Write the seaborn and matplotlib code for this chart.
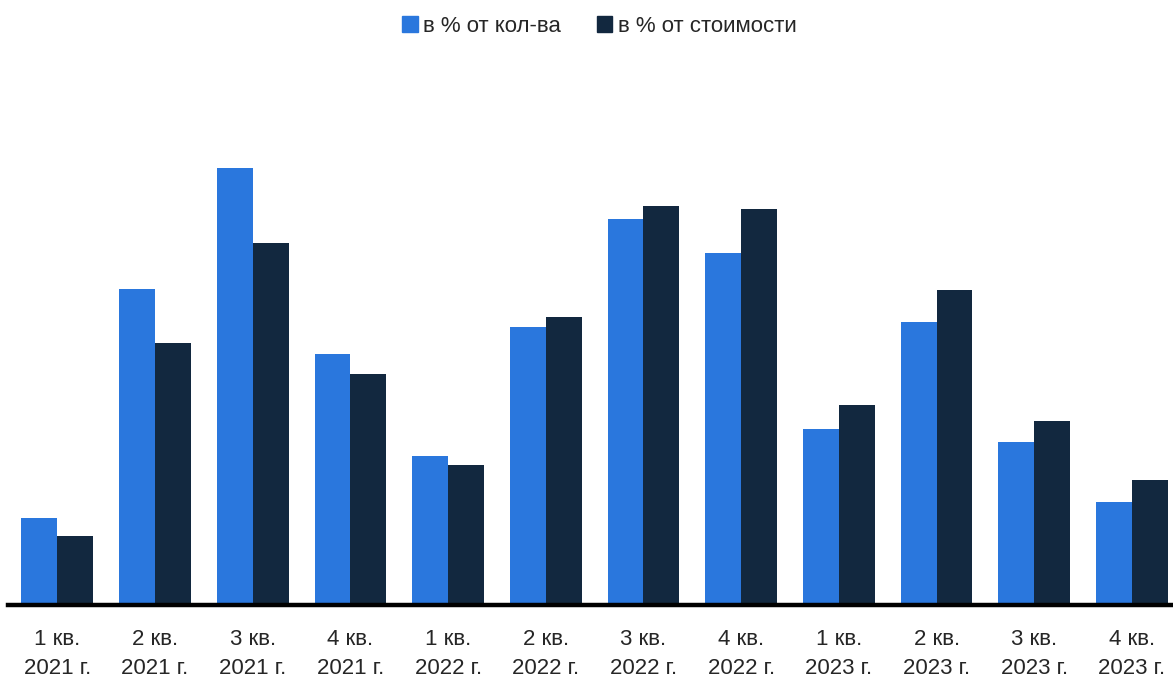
import pandas as pd
import matplotlib.pyplot as plt
import seaborn as sns

# Quarters and series (relative units)
quarters = ["1 кв.\n2021 г.", "2 кв.\n2021 г.", "3 кв.\n2021 г.", "4 кв.\n2021 г.",
            "1 кв.\n2022 г.", "2 кв.\n2022 г.", "3 кв.\n2022 г.", "4 кв.\n2022 г.",
            "1 кв.\n2023 г.", "2 кв.\n2023 г.", "3 кв.\n2023 г.", "4 кв.\n2023 г."]
share_count = [8.7, 31.6, 43.7, 25.1, 14.9, 27.8, 38.6, 35.2, 17.6, 28.3, 16.3, 10.3]
share_value = [6.9, 26.2, 36.2, 23.1, 14.0, 28.8, 39.9, 39.6, 20.0, 31.5, 18.4, 12.5]
series = ["в % от кол-ва", "в % от стоимости"]
colors = ["#2A77DD", "#12283F"]

df = pd.DataFrame({
    "quarter": quarters * 2,
    "value": share_count + share_value,
    "series": [series[0]] * len(quarters) + [series[1]] * len(quarters),
})

sns.set_style("white")
plt.rcParams["font.family"] = ["Liberation Sans", "DejaVu Sans"]

fig = plt.figure(figsize=(11.73, 6.81), dpi=100)
ax = fig.add_axes([8 / 1173, 76 / 681, 1165 / 1173, 530 / 681])
sns.barplot(data=df, x="quarter", y="value", hue="series", palette=colors,
            width=0.735, saturation=1, linewidth=0, ax=ax, legend=False)

ax.set_xlim(-0.505, 11.42)
ax.set_ylim(0, 53)
ax.set_xlabel("")
ax.set_ylabel("")
ax.set_yticks([])
ax.tick_params(axis="x", length=0, labelsize=16, pad=17)
for lbl in ax.get_xticklabels():
    lbl.set_linespacing(1.5)
for side in ["top", "right", "left"]:
    ax.spines[side].set_visible(False)
ax.spines["bottom"].set_linewidth(3.2)
ax.spines["bottom"].set_color("black")

handles = [plt.Rectangle((0, 0), 1, 1, color=c) for c in colors]
fig.legend(handles, series, loc="upper center", bbox_to_anchor=(0.511, 1.006), ncol=2,
           frameon=False, fontsize=16, handlelength=0.7, handleheight=0.75,
           handletextpad=0.25, columnspacing=1.6)

fig.savefig("out.png", dpi=100)
